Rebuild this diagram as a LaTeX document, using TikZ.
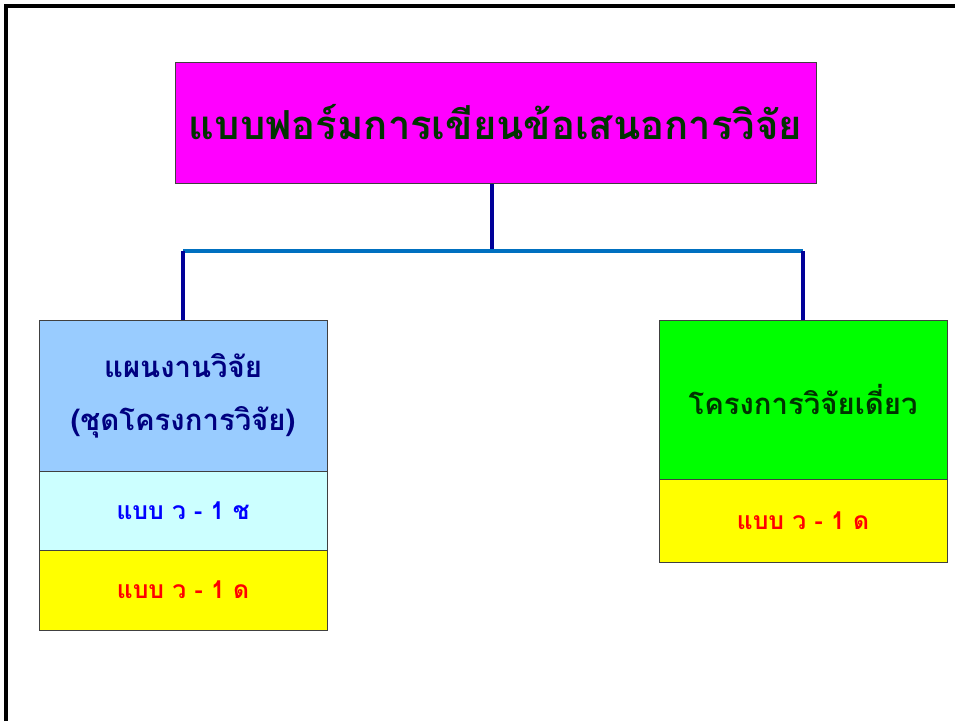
\documentclass[tikz,border=0pt]{standalone}
\usepackage{fontspec}
\newfontfamily\thaifont[Script=Thai]{Loma}
\definecolor{magbox}{HTML}{FF00FF}
\definecolor{planblue}{HTML}{99CCFF}
\definecolor{subcyan}{HTML}{CCFFFF}
\definecolor{formyel}{HTML}{FFFF00}
\definecolor{singlegr}{HTML}{00FF00}
\definecolor{darkgr}{HTML}{003300}
\definecolor{navytxt}{HTML}{000080}
\definecolor{stemcol}{HTML}{000099}
\definecolor{barcol}{HTML}{0070C0}
\tikzset{
  cell/.style={draw=black!75,line width=0.75pt,inner sep=0pt,
    minimum width=288*0.75pt,font=\thaifont\bfseries},
  stem/.style={stemcol,line width=2.4pt},
  bar/.style={barcol,line width=2.4pt}
}
\begin{document}
\begin{tikzpicture}  % ------ Organigramme des formulaires --------------
      [x=0.75pt,y=-0.75pt]
    \useasboundingbox (0,0) rectangle (955,721);
    \draw[line width=2.4pt] (6,721) -- (6,6) -- (955,6);

    \coordinate (jl) at (183,251);
    \coordinate (jm) at (492,251);
    \coordinate (jr) at (803,251);

    \node[cell,fill=magbox,text=darkgr,minimum width=641*0.75pt,
          minimum height=121*0.75pt,font=\thaifont\bfseries\fontsize{30}{36}\selectfont]
          (form) at (495.5,122.5) {แบบฟอร์มการเขียนข้อเสนอการวิจัย};

    \node[cell,fill=planblue,text=navytxt,minimum height=151*0.75pt,align=center,
          font=\thaifont\bfseries\fontsize{22}{40}\selectfont]
          (plan) at (183,395.5) {แผนงานวิจัย\\(ชุดโครงการวิจัย)};
    \node[cell,fill=subcyan,text=blue,minimum height=79*0.75pt,
          font=\thaifont\bfseries\fontsize{18.5}{22}\selectfont]
          (plansub) at (183,510.5) {แบบ ว - 1 ช};
    \node[cell,fill=formyel,text=red,minimum height=80*0.75pt,
          font=\thaifont\bfseries\fontsize{18.5}{22}\selectfont]
          (planform) at (183,590) {แบบ ว - 1 ด};

    \node[cell,fill=singlegr,text=darkgr,minimum height=159*0.75pt,
          font=\thaifont\bfseries\fontsize{22}{26}\selectfont]
          (single) at (803,399.5) {โครงการวิจัยเดี่ยว};
    \node[cell,fill=formyel,text=red,minimum height=83*0.75pt,
          font=\thaifont\bfseries\fontsize{18.5}{22}\selectfont]
          (singleform) at (803,520.5) {แบบ ว - 1 ด};

    \draw[stem] (jm |- form.south) -- (jm);
    \draw[bar] (jl) -- (jr);
    \draw[stem] (jl) -- (plan.north);
    \draw[stem] (jr) -- (single.north);
\end{tikzpicture}
\end{document}
